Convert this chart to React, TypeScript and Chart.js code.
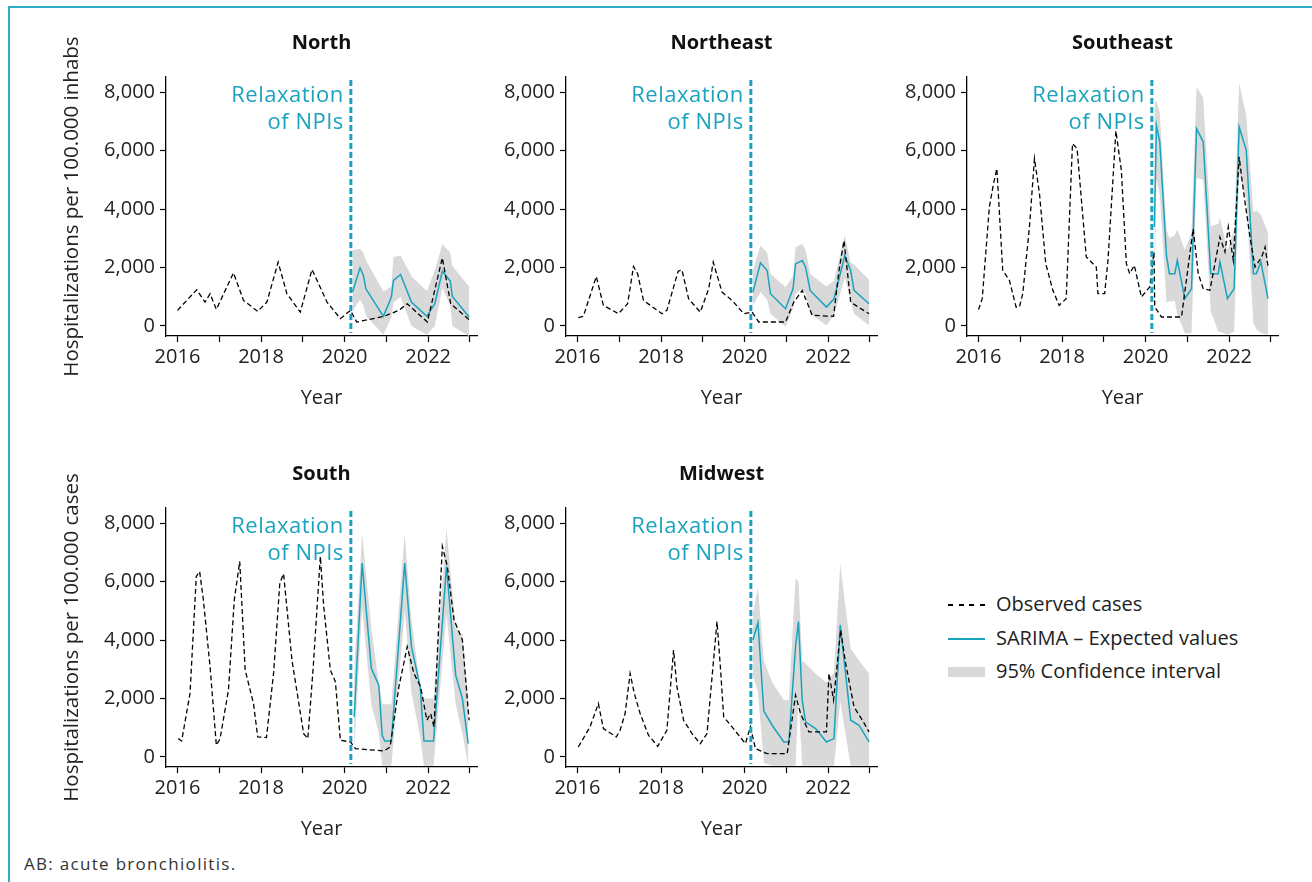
import React, { useEffect, useRef } from 'react';
import { Chart, registerables } from 'chart.js';

Chart.register(...registerables);

const FONT = "'Open Sans', 'DejaVu Sans', sans-serif";
const TEAL = '#1aa3bd';
const BAND = '#d9d9d9';
const TEXT = '#222222';

const NPI_DATE = 2020.15;
const NPI_LINE1 = 'Relaxation';
const NPI_LINE2 = 'of NPIs';

const yearTicks = [2016, 2017, 2018, 2019, 2020, 2021, 2022, 2023];
const valueTicks = [0, 2000, 4000, 6000, 8000];
const xTitle = 'Year';
const yTitleTop = 'Hospitalizations per 100.000 inhabs';
const yTitleBottom = 'Hospitalizations per 100.000 cases';

const legendObserved = 'Observed cases';
const legendSarima = 'SARIMA – Expected values';
const legendBand = '95% Confidence interval';
const footnote = 'AB: acute bronchiolitis.';

// ---------- North ----------
const northObsX = [2016.0, 2016.46, 2016.66, 2016.78, 2016.93, 2017.34, 2017.58, 2017.92, 2018.14, 2018.41, 2018.62, 2018.94, 2019.22, 2019.58, 2019.9, 2020.14, 2020.29, 2020.94, 2021.3, 2021.5, 2021.98, 2022.34, 2022.54, 2022.98];
const northObsY = [534, 1238, 818, 1102, 568, 1818, 875, 500, 818, 2181, 1102, 477, 1931, 818, 250, 534, 136, 330, 534, 761, 136, 2329, 761, 216];
const northSarX = [2020.19, 2020.37, 2020.45, 2020.51, 2020.93, 2021.12, 2021.17, 2021.34, 2021.6, 2021.97, 2022.16, 2022.34, 2022.53, 2022.58, 2022.98];
const northSarY = [1159, 1988, 1727, 1272, 330, 988, 1556, 1761, 818, 330, 761, 1874, 1534, 1011, 307];
const northUpper = [2600, 2640, 2500, 2250, 1180, 1350, 2350, 2420, 1700, 1200, 1900, 2800, 2500, 2050, 1350];
const northLower = [500, 900, 700, 350, -300, 300, 800, 1000, 0, -300, 0, 1300, 700, 0, -350];

// ---------- Northeast ----------
const neObsX = [2016.02, 2016.14, 2016.45, 2016.62, 2016.98, 2017.2, 2017.34, 2017.44, 2017.58, 2018.02, 2018.14, 2018.41, 2018.5, 2018.66, 2018.94, 2019.14, 2019.25, 2019.46, 2019.7, 2019.98, 2020.18, 2020.34, 2020.98, 2021.18, 2021.38, 2021.62, 2022.13, 2022.26, 2022.38, 2022.54, 2022.66, 2022.98];
const neObsY = [284, 330, 1693, 704, 420, 761, 2033, 1783, 875, 420, 534, 1874, 1920, 931, 477, 1272, 2181, 1159, 875, 420, 477, 136, 136, 818, 1216, 364, 330, 1897, 2920, 818, 704, 420];
const neSarX = [2020.2, 2020.38, 2020.54, 2020.62, 2020.98, 2021.16, 2021.22, 2021.38, 2021.46, 2021.57, 2021.96, 2022.14, 2022.4, 2022.54, 2022.62, 2022.98];
const neSarY = [1159, 2158, 1897, 1102, 591, 1272, 2124, 2238, 2011, 1216, 648, 931, 2408, 1897, 1216, 761];
const neUpper = [1900, 2750, 2500, 1780, 1330, 1700, 2690, 2800, 2600, 1780, 1350, 1550, 3100, 2150, 2100, 1580];
const neLower = [700, 1160, 900, 420, -30, 600, 1100, 1270, 1100, 420, 20, 360, 1650, 870, 420, 20];

// ---------- Southeast ----------
const seObsX = [2016.0, 2016.09, 2016.26, 2016.36, 2016.44, 2016.58, 2016.74, 2016.9, 2016.98, 2017.06, 2017.22, 2017.34, 2017.46, 2017.61, 2017.78, 2017.93, 2018.1, 2018.25, 2018.36, 2018.58, 2018.82, 2018.86, 2019.02, 2019.1, 2019.29, 2019.42, 2019.54, 2019.62, 2019.73, 2019.9, 2020.1, 2020.2, 2020.22, 2020.38, 2020.86, 2021.14, 2021.26, 2021.38, 2021.54, 2021.78, 2021.9, 2021.98, 2022.1, 2022.24, 2022.34, 2022.5, 2022.62, 2022.78, 2022.86, 2022.94];
const seObsY = [559, 935, 4070, 4868, 5381, 1904, 1562, 650, 650, 1106, 3386, 5723, 4526, 2132, 1220, 707, 935, 6236, 6065, 2360, 2018, 1106, 1106, 2246, 6669, 5324, 2132, 1790, 2075, 992, 1334, 2530, 650, 308, 308, 3329, 1790, 1277, 1220, 3044, 2531, 3386, 2246, 5780, 4640, 3044, 2018, 2360, 2702, 1961];
const seSarX = [2020.21, 2020.26, 2020.34, 2020.5, 2020.57, 2020.7, 2020.76, 2020.94, 2021.1, 2021.22, 2021.38, 2021.56, 2021.74, 2021.78, 2021.96, 2022.12, 2022.24, 2022.41, 2022.58, 2022.65, 2022.76, 2022.93];
const seSarY = [3386, 6863, 6293, 2417, 1790, 1790, 2246, 935, 1277, 6749, 6293, 1790, 1790, 2189, 935, 1277, 6806, 6008, 1790, 1790, 2189, 935];
const seUpper = [7600, 7700, 7300, 3300, 3000, 3100, 3300, 2600, 3200, 8170, 7800, 3400, 3500, 3700, 2600, 3300, 8300, 7200, 3900, 3950, 3800, 3200];
const seLower = [1000, 5000, 4500, 800, 850, 850, 400, -250, -250, 5060, 5000, 500, -200, -200, -300, -200, 5230, 4300, 100, -100, -250, -300];

// ---------- South ----------
const sObsX = [2016.02, 2016.1, 2016.3, 2016.45, 2016.53, 2016.62, 2016.78, 2016.93, 2017.02, 2017.22, 2017.36, 2017.49, 2017.62, 2017.82, 2017.92, 2018.13, 2018.3, 2018.45, 2018.54, 2018.74, 2019.02, 2019.12, 2019.25, 2019.42, 2019.5, 2019.66, 2019.78, 2019.9, 2020.14, 2020.26, 2020.94, 2021.09, 2021.3, 2021.5, 2021.66, 2021.82, 2021.97, 2022.06, 2022.14, 2022.34, 2022.46, 2022.62, 2022.82, 2022.98];
const sObsY = [629, 549, 2172, 6172, 6344, 5372, 3086, 400, 629, 2286, 5372, 6687, 2972, 1829, 686, 663, 2857, 5944, 6264, 3315, 800, 629, 3086, 6858, 5144, 2972, 2572, 572, 514, 286, 206, 343, 2400, 3772, 2857, 2400, 1257, 1486, 1029, 7201, 6515, 4686, 4001, 1257];
const sSarX = [2020.23, 2020.42, 2020.64, 2020.82, 2020.9, 2020.96, 2021.12, 2021.44, 2021.6, 2021.81, 2021.9, 2022.13, 2022.44, 2022.66, 2022.82, 2022.96];
const sSarY = [1372, 6630, 3029, 2457, 743, 549, 549, 6630, 3772, 2400, 549, 549, 6515, 2800, 2000, 457];
const sUpper = [3000, 7650, 4400, 2500, 1800, 1800, 1800, 7650, 4700, 2400, 2000, 2000, 7800, 4400, 4200, 2000];
const sLower = [200, 5100, 1800, 800, -300, -300, -300, 5000, 2200, 700, -300, -300, 4900, 1800, 800, -300];

// ---------- Midwest ----------
const mwObsX = [2016.02, 2016.3, 2016.5, 2016.62, 2016.93, 2017.02, 2017.14, 2017.26, 2017.36, 2017.5, 2017.7, 2017.92, 2018.14, 2018.3, 2018.38, 2018.54, 2018.74, 2018.94, 2019.1, 2019.34, 2019.42, 2019.5, 2019.7, 2020.02, 2020.14, 2020.26, 2020.54, 2021.02, 2021.22, 2021.34, 2021.54, 2021.62, 2021.96, 2022.02, 2022.13, 2022.3, 2022.42, 2022.62, 2022.82, 2022.98];
const mwObsY = [343, 1029, 1829, 972, 686, 914, 1486, 2857, 2172, 1486, 743, 366, 914, 3658, 2400, 1257, 800, 457, 800, 4629, 3086, 1372, 1029, 457, 1029, 286, 114, 114, 2115, 1486, 857, 857, 857, 2857, 1943, 4343, 3200, 1714, 1257, 857];
const mwSarX = [2020.2, 2020.32, 2020.46, 2020.66, 2020.94, 2021.06, 2021.22, 2021.29, 2021.38, 2021.46, 2021.7, 2021.96, 2022.14, 2022.29, 2022.54, 2022.74, 2022.98];
const mwSarY = [4001, 4595, 1577, 1086, 514, 514, 3772, 4629, 1943, 1200, 972, 514, 629, 4515, 1257, 1086, 514];
const mwUpper = [4900, 5800, 3300, 2550, 1950, 1950, 6100, 6000, 3300, 3200, 2850, 2550, 2900, 6600, 3700, 3300, 2850];
const mwLower = [2800, 2200, -200, -300, -300, -300, -300, 2000, -300, -300, -300, -300, -300, 1900, -300, -300, -300];

const colOffsets = [0, 400, 801];
const rowOffsets = [0, 431];

const pts = (xs: number[], ys: number[]) => xs.map((x, i) => ({ x, y: ys[i] }));

const npiPlugin = {
  id: 'npiMarker',
  afterDatasetsDraw(chart: any) {
    const { ctx, chartArea, scales } = chart;
    const x = scales.x.getPixelForValue(NPI_DATE);
    ctx.save();
    ctx.strokeStyle = TEAL;
    ctx.lineWidth = 3;
    ctx.setLineDash([6, 3]);
    ctx.beginPath();
    ctx.moveTo(x, chartArea.top + 3);
    ctx.lineTo(x, chartArea.bottom - 3);
    ctx.stroke();
    ctx.setLineDash([]);
    ctx.fillStyle = TEAL;
    ctx.font = `22px ${FONT}`;
    try {
      (ctx as any).letterSpacing = '0.5px';
    } catch (e) {
      /* ignore */
    }
    ctx.textAlign = 'right';
    ctx.textBaseline = 'alphabetic';
    ctx.fillText(NPI_LINE1, x - 7, chartArea.top + 24.7);
    ctx.fillText(NPI_LINE2, x - 7, chartArea.top + 52.3);
    ctx.restore();
  },
};

type PanelProps = {
  title: string;
  obsX: number[];
  obsY: number[];
  sarX: number[];
  sarY: number[];
  upper: number[];
  lower: number[];
  col: number;
  row: number;
  yTitle: string | null;
};

const CANVAS_W = 470;
const CANVAS_H = 405;

function Panel(p: PanelProps) {
  const ref = useRef<HTMLCanvasElement | null>(null);
  useEffect(() => {
    if (!ref.current) return;
    const tickFont = { family: FONT, size: 20 };
    const chart = new Chart(ref.current, {
      type: 'line',
      data: {
        datasets: [
          {
            label: legendObserved,
            data: pts(p.obsX, p.obsY),
            borderColor: '#000000',
            borderWidth: 1.3,
            borderDash: [5, 3],
            pointRadius: 0,
            fill: false,
            tension: 0,
          },
          {
            label: legendSarima,
            data: pts(p.sarX, p.sarY),
            borderColor: TEAL,
            borderWidth: 1.5,
            pointRadius: 0,
            fill: false,
            tension: 0,
          },
          {
            label: legendBand,
            data: pts(p.sarX, p.upper),
            borderColor: 'rgba(0,0,0,0)',
            borderWidth: 0,
            backgroundColor: BAND,
            pointRadius: 0,
            fill: '+1',
            tension: 0,
          },
          {
            label: legendBand + ' (lower)',
            data: pts(p.sarX, p.lower),
            borderColor: 'rgba(0,0,0,0)',
            borderWidth: 0,
            pointRadius: 0,
            fill: false,
            tension: 0,
          },
        ],
      },
      options: {
        animation: false,
        responsive: false,
        layout: { padding: { left: 0, right: 5, top: 0, bottom: 3 } },
        plugins: {
          legend: { display: false },
          tooltip: { enabled: false },
          title: {
            display: true,
            text: p.title,
            fullSize: false,
            color: '#111111',
            font: { family: FONT, size: 20, weight: 'bold' },
            padding: { top: 21, bottom: 22 },
          },
        },
        scales: {
          x: {
            type: 'linear',
            min: 2015.725,
            max: 2023.17,
            afterBuildTicks: (s: any) => {
              s.ticks = yearTicks.map((v) => ({ value: v }));
            },
            afterFit: (s: any) => {
              s.height = 76;
            },
            ticks: {
              callback: (v: any) => (Number(v) % 2 === 0 ? String(v) : ''),
              font: tickFont,
              color: TEXT,
              padding: 3,
              maxRotation: 0,
              autoSkip: false,
            },
            grid: {
              drawOnChartArea: false,
              drawTicks: true,
              tickLength: 6,
              tickColor: '#000000',
              tickWidth: 1.2,
            },
            border: { display: true, color: '#000000', width: 1.3 },
            title: {
              display: true,
              text: xTitle,
              color: TEXT,
              font: tickFont,
              padding: { top: 0, bottom: 2 },
            },
          },
          y: {
            type: 'linear',
            min: -342,
            max: 8513,
            afterBuildTicks: (s: any) => {
              s.ticks = valueTicks.map((v) => ({ value: v }));
            },
            afterFit: (s: any) => {
              s.width = 154;
            },
            ticks: {
              callback: (v: any) => Number(v).toLocaleString('en-US'),
              font: tickFont,
              color: TEXT,
              padding: 5,
            },
            grid: {
              drawOnChartArea: false,
              drawTicks: true,
              tickLength: 6,
              tickColor: '#000000',
              tickWidth: 1.2,
            },
            border: { display: true, color: '#000000', width: 1.3 },
            title: {
              display: !!p.yTitle,
              text: p.yTitle || '',
              color: TEXT,
              font: { family: FONT, size: 20.5 },
              padding: { top: 48, bottom: 0 },
            },
          },
        },
      } as any,
      plugins: [npiPlugin],
    });
    return () => chart.destroy();
  }, []);
  const left = colOffsets[p.col] + 12;
  const top = rowOffsets[p.row] + 10;
  return (
    <canvas
      ref={ref}
      width={CANVAS_W}
      height={CANVAS_H}
      style={{ position: 'absolute', left, top, width: CANVAS_W, height: CANVAS_H }}
    />
  );
}

export default function App() {
  const legendText: React.CSSProperties = {
    position: 'absolute',
    left: 996,
    fontFamily: FONT,
    fontSize: 20,
    lineHeight: '24px',
    color: TEXT,
    whiteSpace: 'nowrap',
  };
  return (
    <div
      style={{
        position: 'absolute',
        left: 0,
        top: 0,
        width: 1312,
        height: 882,
        overflow: 'hidden',
        background: '#ffffff',
      }}
    >
      <div
        style={{
          position: 'absolute',
          left: 8,
          top: 6,
          width: 1310,
          height: 880,
          borderTop: '2px solid #2eaec6',
          borderLeft: '2px solid #2eaec6',
        }}
      />
      <Panel title="North" obsX={northObsX} obsY={northObsY} sarX={northSarX} sarY={northSarY} upper={northUpper} lower={northLower} col={0} row={0} yTitle={yTitleTop} />
      <Panel title="Northeast" obsX={neObsX} obsY={neObsY} sarX={neSarX} sarY={neSarY} upper={neUpper} lower={neLower} col={1} row={0} yTitle={null} />
      <Panel title="Southeast" obsX={seObsX} obsY={seObsY} sarX={seSarX} sarY={seSarY} upper={seUpper} lower={seLower} col={2} row={0} yTitle={null} />
      <Panel title="South" obsX={sObsX} obsY={sObsY} sarX={sSarX} sarY={sSarY} upper={sUpper} lower={sLower} col={0} row={1} yTitle={yTitleBottom} />
      <Panel title="Midwest" obsX={mwObsX} obsY={mwObsY} sarX={mwSarX} sarY={mwSarY} upper={mwUpper} lower={mwLower} col={1} row={1} yTitle={null} />

      <div
        style={{
          position: 'absolute',
          left: 948,
          top: 604,
          width: 37,
          height: 1.5,
          background: 'repeating-linear-gradient(to right, #000 0px, #000 5px, transparent 5px, transparent 10.5px)',
        }}
      />
      <div style={{ ...legendText, top: 592 }}>{legendObserved}</div>
      <div style={{ position: 'absolute', left: 948, top: 638, width: 37, height: 1.5, background: TEAL }} />
      <div style={{ ...legendText, top: 625.5 }}>{legendSarima}</div>
      <div style={{ position: 'absolute', left: 948, top: 667, width: 37, height: 10, background: BAND }} />
      <div style={{ ...legendText, top: 658.5 }}>{legendBand}</div>

      <div
        style={{
          position: 'absolute',
          left: 24,
          top: 854,
          fontFamily: FONT,
          fontSize: 17,
          letterSpacing: '1.3px',
          lineHeight: '20px',
          color: '#333333',
          whiteSpace: 'nowrap',
        }}
      >
        {footnote}
      </div>
    </div>
  );
}
